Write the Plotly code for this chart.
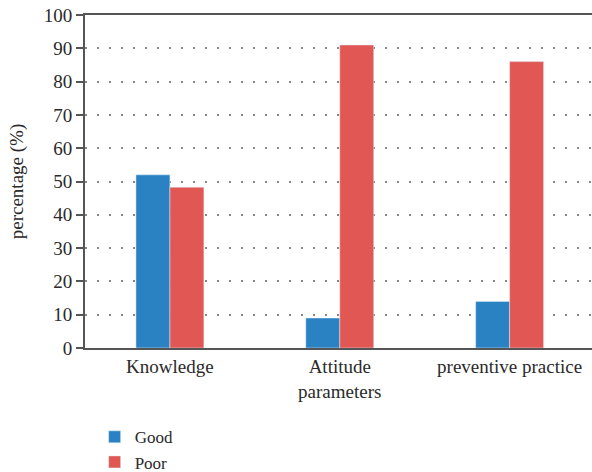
import plotly.graph_objects as go

categories = ["Knowledge", "Attitude<br>parameters", "preventive practice"]
good = [52, 9, 14]
poor = [48.3, 91, 86]
series_names = ["Good", "Poor"]
colors = ["#2A82C3", "#E05754"]
yticks = [0, 10, 20, 30, 40, 50, 60, 70, 80, 90, 100]

FONT = "Liberation Serif"

fig = go.Figure()
fig.add_trace(go.Bar(x=categories, y=good, name=series_names[0], marker_color=colors[0]))
fig.add_trace(go.Bar(x=categories, y=poor, name=series_names[1], marker_color=colors[1]))

fig.update_layout(
    width=592, height=492,
    margin=dict(l=85, r=0, t=15, b=144),
    barmode="group", bargap=0.6, bargroupgap=0,
    plot_bgcolor="white", paper_bgcolor="white",
    font=dict(family=FONT, size=19, color="#2a2a2a"),
    legend=dict(orientation="v", x=0.019, y=-0.214, xanchor="left", yanchor="top",
                font=dict(size=17), itemwidth=30, tracegroupgap=0, bgcolor="rgba(0,0,0,0)"),
    xaxis=dict(showline=True, linecolor="#555555", linewidth=2, mirror=True, automargin=False,
               ticks="", showgrid=False, range=[-0.5, 2.485], tickfont=dict(size=19)),
    yaxis=dict(range=[0, 100], tickvals=yticks, showline=True, linecolor="#555555", linewidth=2,
               automargin=False,
               ticks="outside", ticklen=7, tickcolor="#555555", tickwidth=1.5,
               showgrid=True, gridcolor="#888888", gridwidth=1.5, griddash="1.5px,10.5px",
               zeroline=False, tickfont=dict(size=19),
               title=dict(text="percentage (%)", font=dict(size=19))),
)

fig.write_html("out.html", config={"displayModeBar": False},
               post_script="document.body.style.margin='0';document.body.style.overflow='hidden';")
